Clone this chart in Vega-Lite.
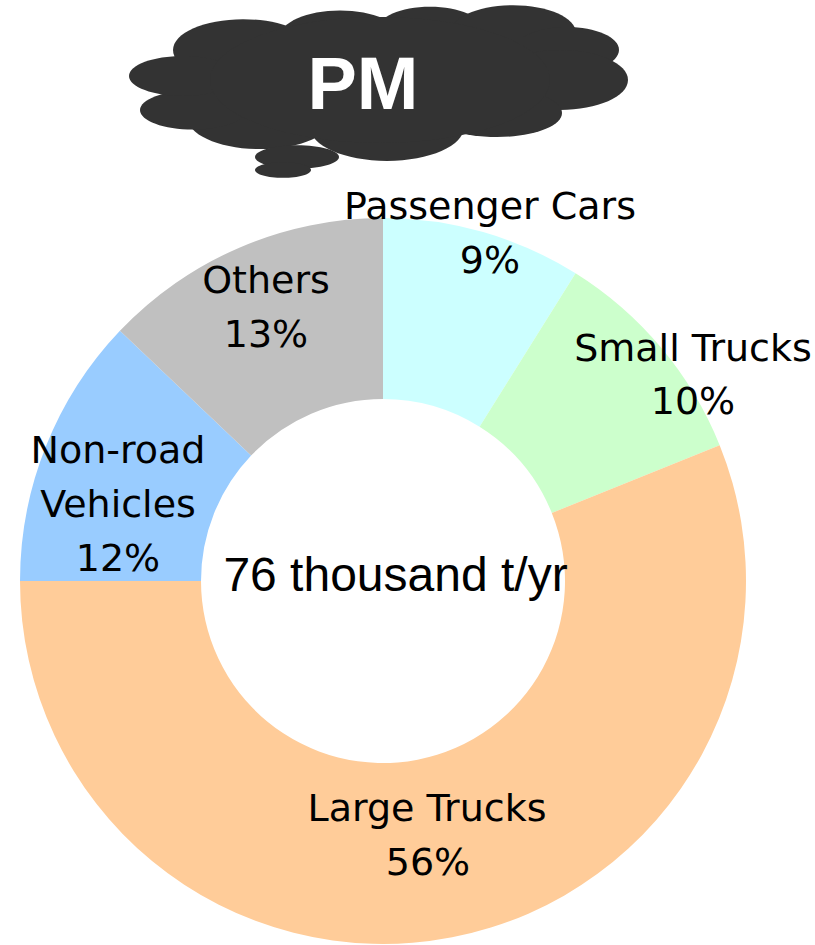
{"$schema":"https://vega.github.io/schema/vega-lite/v6.json","width":815,"height":945,"autosize":{"type":"fit","contains":"padding"},"padding":0,"background":"white","view":{"stroke":null},
"datasets":{
"shares":[{"category":"Passenger Cars","share":8.9,"order":1,"cx":383,"cy":581},{"category":"Small Trucks","share":10,"order":2,"cx":383,"cy":581},{"category":"Large Trucks","share":56.1,"order":3,"cx":383,"cy":581},{"category":"Non-road Vehicles","share":12.1,"order":4,"cx":383,"cy":581},{"category":"Others","share":12.9,"order":5,"cx":383,"cy":581}],
"labels":[{"line":"Passenger Cars","x":490,"y":208},{"line":"9%","x":490,"y":262},{"line":"Small Trucks","x":693,"y":350},{"line":"10%","x":693,"y":403},{"line":"Large Trucks","x":427,"y":810},{"line":"56%","x":428,"y":864},{"line":"Non-road","x":118,"y":452},{"line":"Vehicles","x":118,"y":506},{"line":"12%","x":118,"y":560},{"line":"Others","x":266,"y":282},{"line":"13%","x":266,"y":336}],
"cloud":[{"x":243,"y":50,"d":140,"kind":"a"},{"x":340,"y":37,"d":120,"kind":"a"},{"x":430,"y":30,"d":106,"kind":"a"},{"x":513,"y":33,"d":126,"kind":"a"},{"x":567,"y":50,"d":104,"kind":"a"},{"x":560,"y":80,"d":136,"kind":"a"},{"x":497,"y":113,"d":130,"kind":"b"},{"x":387,"y":127,"d":154,"kind":"a"},{"x":260,"y":117,"d":146,"kind":"a"},{"x":193,"y":110,"d":106,"kind":"b"},{"x":183,"y":76,"d":108,"kind":"b"},{"x":297,"y":157,"d":84,"kind":"c"},{"x":283,"y":170,"d":56,"kind":"c"},{"x":380,"y":80,"d":340,"kind":"b"}]},
"layer":[
{"data":{"name":"cloud"},"transform":[{"calculate":"datum.d*datum.d","as":"area"}],"mark":{"type":"point","filled":true,"opacity":1,"color":"#333333","stroke":null},"encoding":{"x":{"field":"x","type":"quantitative","scale":{"domain":[0,815]},"axis":null},"y":{"field":"y","type":"quantitative","scale":{"domain":[945,0]},"axis":null},"size":{"field":"area","type":"quantitative","scale":null,"legend":null},"shape":{"field":"kind","type":"nominal","legend":null,"scale":{"domain":["a","b","c"],"range":["M-1,0A1,0.44 0 1,1 1,0A1,0.44 0 1,1 -1,0Z","M-1,0A1,0.37 0 1,1 1,0A1,0.37 0 1,1 -1,0Z","M-1,0A1,0.28 0 1,1 1,0A1,0.28 0 1,1 -1,0Z"]}}}},
{"data":{"values":[{"t":"PM","x":363,"y":109}]},"mark":{"type":"text","font":"Liberation Sans","fontWeight":"bold","fontSize":74,"color":"white","align":"center","baseline":"alphabetic"},"encoding":{"x":{"field":"x","type":"quantitative","scale":{"domain":[0,815]},"axis":null},"y":{"field":"y","type":"quantitative","scale":{"domain":[945,0]},"axis":null},"text":{"field":"t"}}},
{"data":{"name":"shares"},"mark":{"type":"arc","radius":363,"radius2":182,"stroke":null},"encoding":{"x":{"field":"cx","type":"quantitative","scale":{"domain":[0,815]},"axis":null},"y":{"field":"cy","type":"quantitative","scale":{"domain":[945,0]},"axis":null},"theta":{"field":"share","type":"quantitative","stack":true,"scale":{"domain":[0,100],"range":[0,6.2832]}},"order":{"field":"order"},"color":{"field":"category","type":"nominal","legend":null,"scale":{"domain":["Passenger Cars","Small Trucks","Large Trucks","Non-road Vehicles","Others"],"range":["#CCFFFF","#CCFFCC","#FFCC99","#99CCFF","#C0C0C0"]}}}},
{"data":{"name":"labels"},"mark":{"type":"text","font":"DejaVu Sans","fontSize":38,"color":"black","align":"center","baseline":"middle"},"encoding":{"x":{"field":"x","type":"quantitative","scale":{"domain":[0,815]},"axis":null},"y":{"field":"y","type":"quantitative","scale":{"domain":[945,0]},"axis":null},"text":{"field":"line"},"detail":{"field":"line"}}},
{"data":{"values":[{"t":"76 thousand t/yr","x":395.5,"y":577}]},"mark":{"type":"text","font":"Liberation Sans","fontSize":48,"color":"black","align":"center","baseline":"middle"},"encoding":{"x":{"field":"x","type":"quantitative","scale":{"domain":[0,815]},"axis":null},"y":{"field":"y","type":"quantitative","scale":{"domain":[945,0]},"axis":null},"text":{"field":"t"}}}
]}
